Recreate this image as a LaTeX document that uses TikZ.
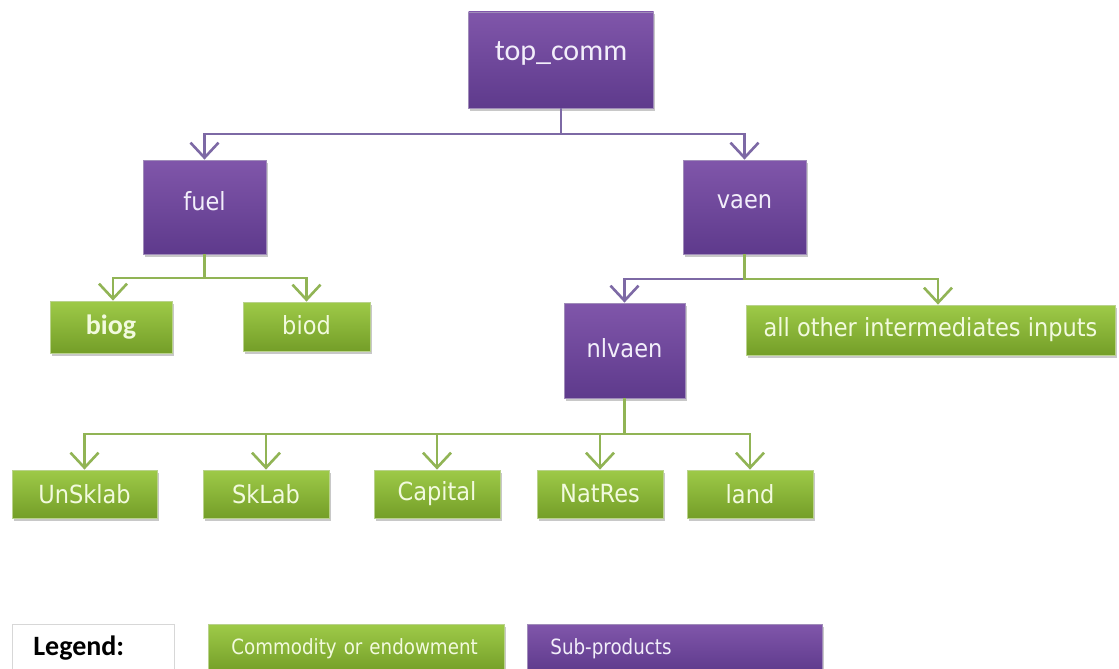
\documentclass[tikz,border=0pt]{standalone}
\usepackage{fontspec}
\usetikzlibrary{arrows.meta,shadows}
\newfontfamily\pixfont[FakeStretch=0.9]{DejaVu Sans}
\newfontfamily\legfont[FakeStretch=0.87]{DejaVu Sans}
\newfontfamily\calfont{Carlito}
\definecolor{pTop}{RGB}{128,86,170}
\definecolor{pBot}{RGB}{94,58,140}
\definecolor{pLine}{RGB}{125,105,165}
\definecolor{pBorder}{RGB}{160,140,185}
\definecolor{gTop}{RGB}{158,202,72}
\definecolor{gBot}{RGB}{116,158,40}
\definecolor{gLine}{RGB}{145,180,85}
\definecolor{gBorder}{RGB}{185,210,140}
\definecolor{gText}{RGB}{242,250,222}
\definecolor{pText}{RGB}{242,238,250}
\definecolor{lBorder}{RGB}{215,215,215}
\tikzset{
  box/.style={rectangle, inner sep=0pt, line width=0.8pt,
    drop shadow={shadow xshift=1.5pt, shadow yshift=-2.5pt, opacity=0.3, fill=black!70}},
  pbox/.style={box, draw=pBorder, top color=pTop, bottom color=pBot, text=pText},
  gbox/.style={box, draw=gBorder, top color=gTop, bottom color=gBot, text=gText},
  pconn/.style={draw=pLine, line width=2.8pt, -{Straight Barb[length=15pt,width=28pt,line width=2.6pt]}},
  gconn/.style={draw=gLine, line width=2.8pt, -{Straight Barb[length=15pt,width=28pt,line width=2.6pt]}},
  pixtext/.style={font=\pixfont\fontsize{25}{28}\selectfont},
  legtext/.style={font=\legfont\fontsize{21}{24}\selectfont},
}
\begin{document}
\begin{tikzpicture}[x=1pt,y=-1pt]
\useasboundingbox (0,0) rectangle (1119,669);
\fill[white] (0,0) rectangle (1119,669);
% boxes
\node[pbox, minimum width=185pt, minimum height=96pt, font=\calfont\fontsize{30}{32}\selectfont] (top) at (561,60) {\raisebox{18pt}{top\_comm}};
\node[pbox, pixtext, minimum width=123pt, minimum height=94pt] (fuel) at (204.5,207) {\raisebox{11pt}{fuel}};
\node[pbox, pixtext, minimum width=123pt, minimum height=94pt] (vaen) at (744.5,207) {\raisebox{11pt}{vaen}};
\node[gbox, minimum width=122pt, minimum height=52pt, font=\calfont\bfseries\fontsize{28}{30}\selectfont] (biog) at (111,327) {biog};
\node[gbox, pixtext, minimum width=127pt, minimum height=49pt] (biod) at (306.5,326.5) {\raisebox{2pt}{biod}};
\node[pbox, pixtext, minimum width=121pt, minimum height=95pt] (nlvaen) at (624.5,350.5) {\raisebox{5pt}{nlvaen}};
\node[gbox, pixtext, minimum width=369pt, minimum height=50pt] (other) at (930.5,330) {all other intermediates inputs};
\node[gbox, pixtext, minimum width=145pt, minimum height=48pt] (unsk) at (84.5,494) {UnSklab};
\node[gbox, pixtext, minimum width=126pt, minimum height=48pt] (sklab) at (266,494) {SkLab};
\node[gbox, pixtext, minimum width=126pt, minimum height=48pt] (capital) at (437,494) {Capital};
\node[gbox, pixtext, minimum width=126pt, minimum height=48pt] (natres) at (600,494) {NatRes};
\node[gbox, pixtext, minimum width=126pt, minimum height=48pt] (land) at (750,494) {land};
% junctions
\coordinate (j1) at (561,134);
\coordinate (j2) at (204.5,278);
\coordinate (j3) at (744.5,279);
\coordinate (j4) at (624.5,434);
% connectors
\draw[pconn] (top.south) -- (j1) -| (fuel.north);
\draw[pconn] (top.south) -- (j1) -| (vaen.north);
\draw[gconn] (fuel.south) -- (j2) -| ([xshift=2pt]biog.north);
\draw[gconn] (fuel.south) -- (j2) -| (biod.north);
\draw[pconn] (vaen.south) -- (j3) -| (nlvaen.north);
\draw[gconn] (vaen.south) -- (j3) -| ([xshift=7.5pt]other.north);
\draw[gconn] (nlvaen.south) -- (j4) -| (unsk.north);
\draw[gconn] (nlvaen.south) -- (j4) -| (sklab.north);
\draw[gconn] (nlvaen.south) -- (j4) -| (capital.north);
\draw[gconn] (nlvaen.south) -- (j4) -| (natres.north);
\draw[gconn] (nlvaen.south) -- (j4) -| (land.north);
% legend
\node[rectangle, draw=lBorder, fill=white, line width=0.8pt, anchor=north west,
  minimum width=162pt, minimum height=48pt, text width=120pt, inner xsep=21pt, inner ysep=0pt, align=left,
  font=\calfont\bfseries\fontsize{28}{30}\selectfont] (legend) at (12,624) {Legend:};
\node[gbox, legtext, anchor=north west, minimum width=296pt, minimum height=48pt,
  text width=250pt, inner xsep=23pt, align=left] (lcomm) at (208,624) {Commodity or endowment};
\node[pbox, legtext, anchor=north west, minimum width=295pt, minimum height=48pt,
  text width=249pt, inner xsep=23pt, align=left] (lsub) at (527,624) {Sub-products};
\end{tikzpicture}
\end{document}
